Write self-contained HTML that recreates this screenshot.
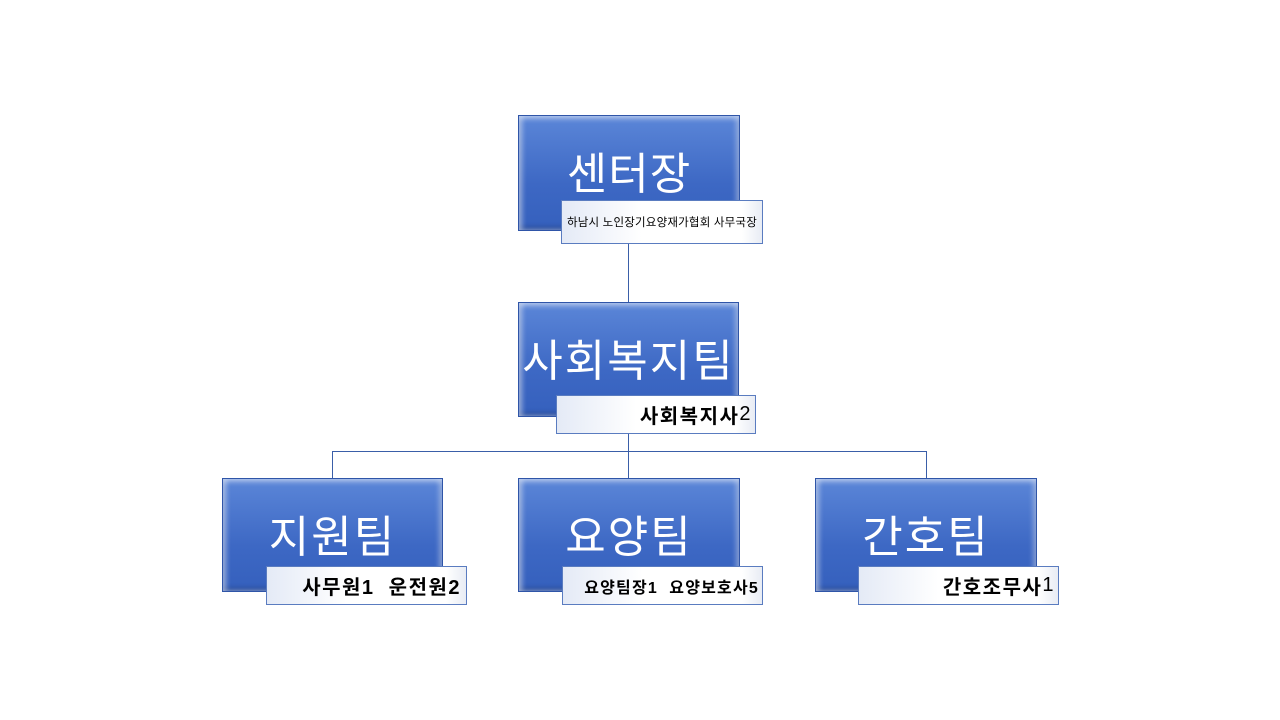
<!DOCTYPE html>
<html><head><meta charset="utf-8"><style>
body{margin:0;width:1280px;height:720px;background:#fff;position:relative;overflow:hidden;font-family:"Liberation Sans","Noto Sans CJK KR",sans-serif}
.b{position:absolute;background:linear-gradient(#5b86d8,#3d68c4 60%,#3560bd);border:1px solid #2f55a8;box-shadow:inset 4px 0 4px rgba(255,255,255,.35),inset -4px 0 4px rgba(255,255,255,.25),inset 0 4px 4px rgba(255,255,255,.3),inset 0 -4px 4px rgba(0,0,0,.15);color:#fff;font-size:44px;display:flex;justify-content:center;box-sizing:border-box;white-space:nowrap}
.l{position:absolute;background:linear-gradient(90deg,#e4eaf6,#fff 40%,#fff 90%,#e8ecf4);border:1px solid #5a7cc0;box-sizing:border-box;display:flex;align-items:center;justify-content:flex-end;padding-right:5px;color:#000;font-weight:bold;white-space:nowrap}
.v{position:absolute;width:1px;background:#3a5ea8}
.h{position:absolute;height:1px;background:#3a5ea8}
</style></head><body>
<div class="v" style="left:628px;top:243px;height:60px"></div>
<div class="v" style="left:628px;top:433px;height:46px"></div>
<div class="h" style="left:332px;top:451px;width:595px"></div>
<div class="v" style="left:332px;top:451px;height:28px"></div>
<div class="v" style="left:926px;top:451px;height:28px"></div>

<div class="b" style="left:518px;top:115px;width:222px;height:116px;padding-top:22px;letter-spacing:1px">센터장</div>
<div class="l" style="left:561px;top:200px;width:202px;height:44px;font-size:11.5px;font-weight:normal;letter-spacing:0.2px">하남시 노인장기요양재가협회 사무국장</div>

<div class="b" style="left:518px;top:302px;width:221px;height:115px;padding-top:22px;letter-spacing:2px">사회복지팀</div>
<div class="l" style="left:556px;top:395px;width:200px;height:39px;font-size:20px;letter-spacing:1.5px;padding-right:3px">사회복지사<span style="font-weight:normal">2</span></div>

<div class="b" style="left:222px;top:478px;width:221px;height:114px;padding-top:22px;letter-spacing:2px">지원팀</div>
<div class="l" style="left:266px;top:566px;width:201px;height:39px;font-size:20px;letter-spacing:1.5px">사무원1&nbsp; 운전원2</div>

<div class="b" style="left:518px;top:478px;width:222px;height:114px;padding-top:22px;letter-spacing:2px">요양팀</div>
<div class="l" style="left:562px;top:566px;width:201px;height:39px;font-size:16px;letter-spacing:1.2px;padding-right:3px">요양팀장1&nbsp; 요양보호사5</div>

<div class="b" style="left:815px;top:478px;width:222px;height:114px;padding-top:22px;letter-spacing:2px">간호팀</div>
<div class="l" style="left:858px;top:566px;width:201px;height:39px;font-size:20px;letter-spacing:1.5px;padding-right:3px">간호조무사<span style="font-weight:normal">1</span></div>
</body></html>
